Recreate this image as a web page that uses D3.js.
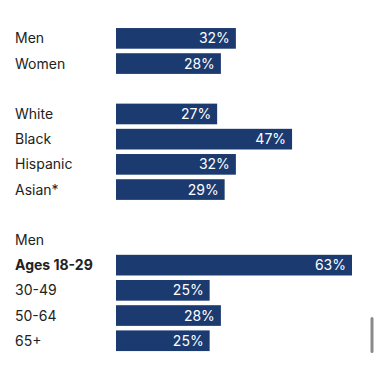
<!DOCTYPE html>
<html>
<head>
<meta charset="utf-8">
<script src="https://cdn.jsdelivr.net/npm/d3@7"></script>
<style>
  body { margin: 0; background: #fff; }
  svg { display: block; font-family: Inter, "Noto Sans", sans-serif; }
</style>
</head>
<body>
<svg width="378" height="370"></svg>
<script>
// rows in order; "" = blank spacer row, header rows have no value
var labels = ["Men", "Women", "", "White", "Black", "Hispanic", "Asian*", "", "Men", "Ages 18-29", "30-49", "50-64", "65+"];
var values = [32, 28, null, 27, 47, 32, 29, null, null, 63, 25, 28, 25];
var boldRows = [9];

var rows = labels.map(function (l, i) {
  return { key: i, label: l, value: values[i], bold: boldRows.indexOf(i) >= 0 };
});

var svg = d3.select("svg");

var x = d3.scaleLinear()
  .domain([0, 63])
  .range([116, 352]);

var y = d3.scaleBand()
  .domain(rows.map(function (d) { return d.key; }))
  .range([23.5, 355.6])
  .paddingInner(0.18)
  .paddingOuter(0.18);

var row = svg.selectAll("g.row")
  .data(rows)
  .enter()
  .append("g")
  .attr("class", "row");

row.append("text")
  .attr("x", 15)
  .attr("y", function (d) { return y(d.key) + y.bandwidth() / 2; })
  .attr("dy", "0.36em")
  .attr("fill", "#222")
  .attr("font-size", 14)
  .attr("font-weight", function (d) { return d.bold ? 700 : 400; })
  .text(function (d) { return d.label; });

var bars = row.filter(function (d) { return d.value != null; });

bars.append("rect")
  .attr("x", x(0))
  .attr("y", function (d) { return y(d.key); })
  .attr("width", function (d) { return x(d.value) - x(0); })
  .attr("height", y.bandwidth())
  .attr("fill", "#1b3a6f");

bars.append("text")
  .attr("x", function (d) { return x(d.value) - 6; })
  .attr("y", function (d) { return y(d.key) + y.bandwidth() / 2; })
  .attr("dy", "0.36em")
  .attr("text-anchor", "end")
  .attr("fill", "#fff")
  .attr("font-size", 14)
  .text(function (d) { return d.value + "%"; });

// scroll indicator
svg.append("rect")
  .attr("x", 370.5)
  .attr("y", 317)
  .attr("width", 3)
  .attr("height", 36)
  .attr("rx", 1.5)
  .attr("fill", "#8a8a8a");
</script>
</body>
</html>
